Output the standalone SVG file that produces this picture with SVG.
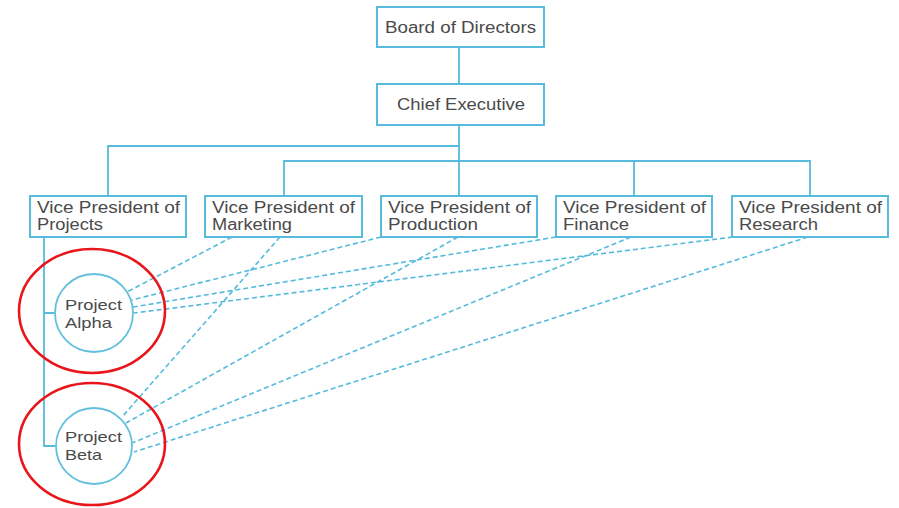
<svg xmlns="http://www.w3.org/2000/svg" width="899" height="508" viewBox="0 0 899 508">
<style>
.box{fill:#fff;stroke:#56bbdc;stroke-width:2}
.circ{fill:#fff;stroke:#62c0de;stroke-width:1.8}
.solid{fill:none;stroke:#56bbdc;stroke-width:1.8}
.dash{fill:none;stroke:#55bbdc;stroke-width:1.6;stroke-dasharray:5 3}
.t{font-family:"Liberation Sans",Arial,sans-serif;font-size:16px;fill:#4a4a4a}
.c{font-family:"Liberation Sans",Arial,sans-serif;font-size:15px;fill:#4a4a4a}
.ring{fill:none;stroke:#e8161b;stroke-width:2.6}
</style>
<rect width="899" height="508" fill="#fff"/>
<g id="connectors">
<path class="solid" d="M459 47V196M108 196V146H459M284 196V161H810V196M634 161V196"/>
<path class="solid" d="M44 237V446H55M44 313H55"/>
<path class="dash" d="M232 237L127 292M381 237L132 300M556 237L133 307M733 237L134 313"/>
<path class="dash" d="M280 237L122 417M458 237L126 423M631 237L132 443M808 237L134 452"/>
</g>
<g id="board"><rect class="box" x="377" y="7" width="167" height="40"/><text class="t" x="385" y="33" textLength="151" lengthAdjust="spacingAndGlyphs">Board of Directors</text></g>
<g id="ceo"><rect class="box" x="377" y="84" width="167" height="41"/><text class="t" x="397" y="110" textLength="128" lengthAdjust="spacingAndGlyphs">Chief Executive</text></g>
<g id="vp-projects"><rect class="box" x="30" y="196" width="156" height="41"/><text class="t" x="37" y="213" textLength="143" lengthAdjust="spacingAndGlyphs">Vice President of</text><text class="t" x="37" y="230" textLength="66" lengthAdjust="spacingAndGlyphs">Projects</text></g>
<g id="vp-marketing"><rect class="box" x="205" y="196" width="157" height="41"/><text class="t" x="212" y="213" textLength="143" lengthAdjust="spacingAndGlyphs">Vice President of</text><text class="t" x="212" y="230" textLength="80" lengthAdjust="spacingAndGlyphs">Marketing</text></g>
<g id="vp-production"><rect class="box" x="381" y="196" width="156" height="41"/><text class="t" x="388" y="213" textLength="143" lengthAdjust="spacingAndGlyphs">Vice President of</text><text class="t" x="388" y="230" textLength="90" lengthAdjust="spacingAndGlyphs">Production</text></g>
<g id="vp-finance"><rect class="box" x="556" y="196" width="156" height="41"/><text class="t" x="563" y="213" textLength="143" lengthAdjust="spacingAndGlyphs">Vice President of</text><text class="t" x="563" y="230" textLength="66" lengthAdjust="spacingAndGlyphs">Finance</text></g>
<g id="vp-research"><rect class="box" x="732" y="196" width="156" height="41"/><text class="t" x="739" y="213" textLength="143" lengthAdjust="spacingAndGlyphs">Vice President of</text><text class="t" x="739" y="230" textLength="79" lengthAdjust="spacingAndGlyphs">Research</text></g>
<g id="project-alpha"><circle class="circ" cx="94" cy="313" r="39"/><text class="c" x="65" y="310" textLength="57" lengthAdjust="spacingAndGlyphs">Project</text><text class="c" x="65" y="328" textLength="47" lengthAdjust="spacingAndGlyphs">Alpha</text></g>
<g id="project-beta"><circle class="circ" cx="94" cy="446" r="38"/><text class="c" x="65" y="442" textLength="57" lengthAdjust="spacingAndGlyphs">Project</text><text class="c" x="65" y="460" textLength="37" lengthAdjust="spacingAndGlyphs">Beta</text></g>
<g id="highlights">
<ellipse class="ring" cx="92" cy="311" rx="73" ry="62"/>
<ellipse class="ring" cx="92" cy="444" rx="73" ry="61"/>
</g>
</svg>
